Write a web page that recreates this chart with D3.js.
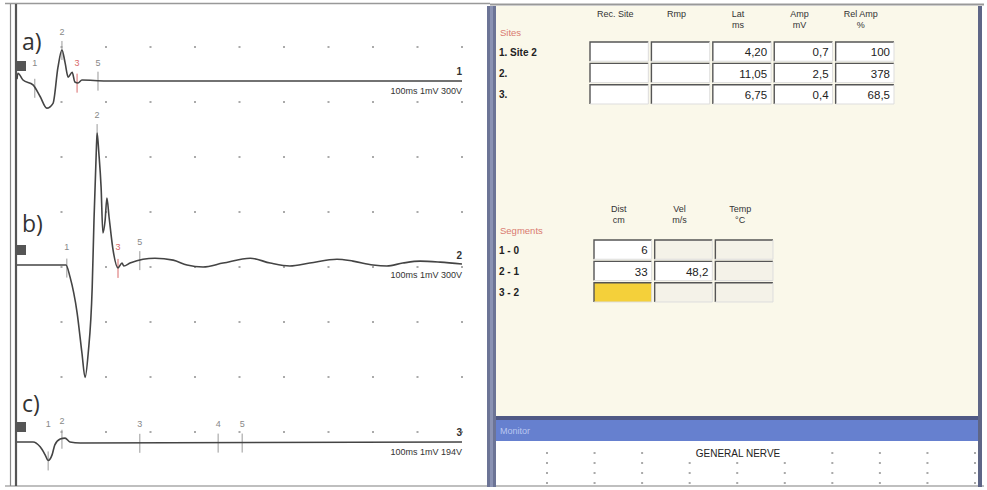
<!DOCTYPE html>
<html><head><meta charset="utf-8">
<script src="https://cdn.jsdelivr.net/npm/d3@7"></script>
<style>body{margin:0;background:#fff}svg{display:block;font-family:"Liberation Sans",Arial,sans-serif}</style>
</head><body><svg id="c" width="987" height="490"></svg>
<script>
// ---------- DATA ----------
// traces: time (ms) / amplitude (mV)
const traceA_t = [0, 0.2, 1.35, 3.6, 5.2, 6.7, 8.1, 9.2, 10.1, 10.8, 11.5, 12.4, 13.0, 13.7, 14.6, 20, 100];
const traceA_v = [0.02, 0.08, 0.01, -0.04, -0.16, -0.28, -0.23, 0.14, 0.32, 0.19, 0.04, 0.09, -0.01, -0.02, 0.01, 0, 0];
const traceB_t = [0, 11, 11.9, 13.5, 14.6, 15.3, 16.0, 16.9, 17.3, 17.8, 18.0, 18.4, 18.9, 19.3, 19.8, 20.2, 20.7, 21.6, 22.7, 23.6, 24.0, 25.4, 28.3, 31.0, 35.1, 38.2, 41.8, 46.3, 52.4, 56.9, 61.3, 65.8, 71.9, 75.5, 80.0, 83.1, 86.7, 90.6, 95.1, 100];
const traceB_v = [0, 0, -0.12, -0.49, -0.91, -1.16, -0.91, -0.23, 0.46, 1.15, 1.36, 1.15, 0.80, 0.33, 0.46, 0.69, 0.49, 0.15, -0.03, 0.02, -0.01, 0.02, 0.06, 0.07, 0.05, 0, -0.02, 0.02, 0.07, 0.02, -0.01, 0.02, 0.06, 0.04, 0, -0.01, 0.02, 0.04, 0.03, 0.01];
const traceC_t = [0, 3.6, 5.2, 6.3, 7.0, 7.9, 8.5, 9.7, 10.8, 11.9, 14.2, 100];
const traceC_v = [0, 0, -0.05, -0.13, -0.19, -0.13, -0.03, 0.03, 0.04, 0, -0.01, 0];
const traceNames = ["a)", "b)", "c)"];
const traceIds = ["1", "2", "3"];
const traceSettings = ["100ms 1mV 300V", "100ms 1mV 300V", "100ms 1mV 194V"];
// cursors (label, time ms)
const cursorsA = [["1", 4.0], ["2", 10.1], ["3", 13.5], ["5", 18.2]];
const cursorsB = [["1", 11.2], ["2", 18.0], ["3", 22.7], ["5", 27.6]];
const cursorsC = [["1", 7.0], ["2", 10.1], ["3", 27.6], ["4", 45.2], ["5", 50.6]];
const timeTicks = [0, 10, 20, 30, 40, 50, 60, 70, 80, 90, 100];
const ampTicks = [-6, -5, -4, -3, -2, -1, 0, 1]; // grid rows (divisions)

// sites table
const siteNames = ["1. Site 2", "2.", "3."];
const siteCols = ["Rec. Site", "Rmp", "Lat", "Amp", "Rel Amp"];
const siteUnits = ["", "", "ms", "mV", "%"];
const recSite = [null, null, null];
const rmp = [null, null, null];
const latMs = [4.20, 11.05, 6.75];
const ampMv = [0.7, 2.5, 0.4];
const relAmpPct = [100, 378, 68.5];
// segments table
const segNames = ["1 - 0", "2 - 1", "3 - 2"];
const segCols = ["Dist", "Vel", "Temp"];
const segUnits = ["cm", "m/s", "°C"];
const distCm = [6, 33, null];
const velMs = [null, 48.2, null];
const tempC = [null, null, null];
const monitorTitle = "Monitor";
const monitorText = "GENERAL NERVE";

// ---------- DRAW ----------
const svg = d3.select("#c");
const W = 987, H = 490;
svg.append("rect").attr("width", W).attr("height", H).attr("fill", "#fff");

// left panel frame
svg.append("line").attr("x1", 5).attr("x2", 490).attr("y1", 3.5).attr("y2", 3.5).attr("stroke", "#999").attr("stroke-width", 1.5);
svg.append("line").attr("x1", 5).attr("x2", 984).attr("y1", 486).attr("y2", 486).attr("stroke", "#aaa").attr("stroke-width", 1.5);
svg.append("line").attr("x1", 10.5).attr("x2", 10.5).attr("y1", 4).attr("y2", 486).attr("stroke", "#888").attr("stroke-width", 1.2);
svg.append("line").attr("x1", 16).attr("x2", 16).attr("y1", 4).attr("y2", 486).attr("stroke", "#555").attr("stroke-width", 2.2);

const x = d3.scaleLinear().domain([0, 100]).range([17, 462]);
const gridY = d3.scaleLinear().domain([1, -6]).range([47, 432]);

// grid dots
const dots = svg.append("g");
timeTicks.slice(1).forEach(t => ampTicks.forEach(a => {
  dots.append("rect").attr("x", x(t) - 1).attr("y", gridY(a) - 1).attr("width", 2).attr("height", 2).attr("fill", "#aaa");
}));

const traces = [
  {t: traceA_t, v: traceA_v, base: 81, cur: cursorsA, red: "3"},
  {t: traceB_t, v: traceB_v, base: 265, cur: cursorsB, red: "3"},
  {t: traceC_t, v: traceC_v, base: 442, cur: cursorsC, red: null}
];
const labelY = [50, 232, 412];
traces.forEach((tr, i) => {
  const y = d3.scaleLinear().domain([-1, 1]).range([tr.base + 97, tr.base - 97]);
  const pts = tr.t.map((t, k) => [t, tr.v[k]]);
  const interp = t => {
    const k = d3.bisectLeft(tr.t, t);
    if (k <= 0) return tr.v[0];
    if (k >= tr.t.length) return tr.v[tr.v.length - 1];
    const f = (t - tr.t[k - 1]) / (tr.t[k] - tr.t[k - 1]);
    return tr.v[k - 1] + f * (tr.v[k] - tr.v[k - 1]);
  };
  svg.append("rect").attr("x", 17).attr("y", tr.base - 20).attr("width", 9).attr("height", 10).attr("fill", "#555");
  tr.cur.forEach(([n, t]) => {
    const yy = y(interp(t));
    const col = n === tr.red ? "#d96a6a" : "#999";
    svg.append("line").attr("x1", x(t)).attr("x2", x(t)).attr("y1", yy - 9).attr("y2", yy + 10).attr("stroke", col).attr("stroke-width", 1);
    svg.append("text").attr("x", x(t)).attr("y", Math.min(yy - 15, tr.base - 15)).attr("text-anchor", "middle")
      .attr("font-size", 9).attr("fill", n === tr.red ? "#d96a6a" : "#888").text(n);
  });
  svg.append("path").datum(pts)
    .attr("d", d3.line().x(d => x(d[0])).y(d => y(d[1])).curve(d3.curveMonotoneX))
    .attr("fill", "none").attr("stroke", "#444").attr("stroke-width", 1.6);
  svg.append("text").attr("x", 462).attr("y", tr.base - 6).attr("text-anchor", "end").attr("font-size", 10).attr("font-weight", "bold").attr("fill", "#333").text(traceIds[i]);
  svg.append("text").attr("x", 462).attr("y", tr.base + 13).attr("text-anchor", "end").attr("font-size", 9).attr("fill", "#333").text(traceSettings[i]);
  svg.append("text").attr("x", 22).attr("y", labelY[i]).attr("font-size", 23).attr("fill", "#333").attr("font-family", "Open Sans, sans-serif").text(traceNames[i]);
});

// right panel
svg.append("rect").attr("x", 496).attr("y", 6).attr("width", 482).attr("height", 412).attr("fill", "#faf8ea");
svg.append("line").attr("x1", 490).attr("x2", 984).attr("y1", 4.5).attr("y2", 4.5).attr("stroke", "#999").attr("stroke-width", 2);
svg.append("rect").attr("x", 487).attr("y", 6).attr("width", 9).attr("height", 481).attr("fill", "#6c7496");
svg.append("rect").attr("x", 490).attr("y", 6).attr("width", 3).attr("height", 481).attr("fill", "#8a92b3");
svg.append("rect").attr("x", 978).attr("y", 6).attr("width", 4).attr("height", 481).attr("fill", "#5e6687");
svg.append("rect").attr("x", 496).attr("y", 416).attr("width", 482).attr("height", 4).attr("fill", "#4f5985");
svg.append("rect").attr("x", 496).attr("y", 420).attr("width", 482).attr("height", 21).attr("fill", "#6680cf");
svg.append("text").attr("x", 500).attr("y", 434).attr("font-size", 9).attr("fill", "#b9c6f0").text(monitorTitle);
svg.append("rect").attr("x", 496).attr("y", 441).attr("width", 482).attr("height", 44).attr("fill", "#fff");
const mx = d3.scaleLinear().domain([0, 9]).range([547, 975]);
d3.range(10).forEach(c => [453, 463, 473, 483].forEach(r => {
  svg.append("rect").attr("x", mx(c) - 1).attr("y", r - 1).attr("width", 2).attr("height", 2).attr("fill", "#aaa");
}));
svg.append("rect").attr("x", 684).attr("y", 446).attr("width", 108).attr("height", 13).attr("fill", "#fff");
svg.append("text").attr("x", 738).attr("y", 457).attr("text-anchor", "middle").attr("font-size", 10).attr("fill", "#222").text(monitorText);

const comma = (v, d) => v == null ? "" : v.toFixed(d).replace(".", ",");
const fmtRel = v => v == null ? "" : (Number.isInteger(v) ? String(v) : comma(v, 1));

function table(cols, units, rowNames, values, fmts, xRange, yRange, headY, title, titleY, fills) {
  const cx = d3.scaleBand().domain(cols).range(xRange).paddingInner(0.05);
  const ry = d3.scaleBand().domain(rowNames).range(yRange).paddingInner(0.1);
  cols.forEach((c, ci) => {
    const hx = cx(c) + cx.bandwidth() / 2 - 4;
    svg.append("text").attr("x", hx).attr("y", headY).attr("text-anchor", "middle").attr("font-size", 9).attr("fill", "#333").text(c);
    if (units[ci]) svg.append("text").attr("x", hx).attr("y", headY + 11).attr("text-anchor", "middle").attr("font-size", 9).attr("fill", "#333").text(units[ci]);
  });
  svg.append("text").attr("x", 500).attr("y", titleY).attr("font-size", 9.5).attr("fill", "#d97a70").text(title);
  rowNames.forEach((r, ri) => {
    svg.append("text").attr("x", 499).attr("y", ry(r) + ry.bandwidth() / 2 + 4).attr("font-size", 10).attr("font-weight", "bold").attr("fill", "#222").text(r);
    cols.forEach((c, ci) => {
      const bx = cx(c), by = ry(r), bw = cx.bandwidth(), bh = ry.bandwidth();
      svg.append("rect").attr("x", bx).attr("y", by).attr("width", bw).attr("height", bh).attr("fill", fills(ri, ci));
      svg.append("path").attr("d", `M${bx},${by + bh}V${by}H${bx + bw}`).attr("fill", "none").attr("stroke", "#555").attr("stroke-width", 1.4);
      svg.append("path").attr("d", `M${bx + bw},${by}V${by + bh}H${bx}`).attr("fill", "none").attr("stroke", "#ddd").attr("stroke-width", 1);
      svg.append("text").attr("x", bx + bw - 4).attr("y", by + bh / 2 + 4.5).attr("text-anchor", "end").attr("font-size", 11.5).attr("fill", "#222").text(fmts[ci](values[ci][ri]));
    });
  });
}
const none = v => v == null ? "" : String(v);
table(siteCols, siteUnits, siteNames, [recSite, rmp, latMs, ampMv, relAmpPct],
  [none, none, v => comma(v, 2), v => comma(v, 1), fmtRel],
  [590, 894], [42, 104], 17, "Sites", 36, () => "#fff");
table(segCols, segUnits, segNames, [distCm, velMs, tempC],
  [none, v => comma(v, 1), v => comma(v, 1)],
  [594, 773], [240, 302], 212, "Segments", 234,
  (ri, ci) => (ri === 2 && ci === 0) ? "#f4d03a" : (ci === 0 || (ci === 1 && ri === 1)) ? "#fff" : "#f4f2e8");
</script></body></html>
